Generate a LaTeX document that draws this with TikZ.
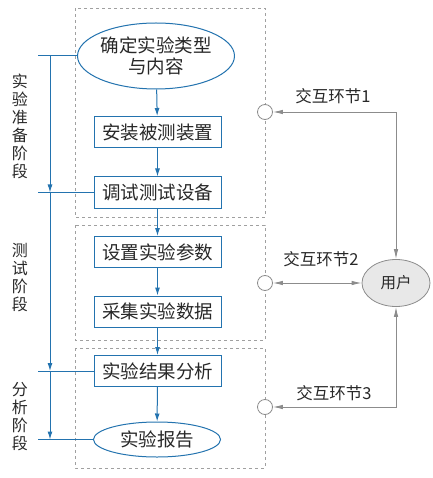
\documentclass[tikz,border=0pt]{standalone}
\usepackage{fontspec}
\setmainfont{Noto Sans CJK SC}
\usetikzlibrary{shapes.geometric,arrows.meta}
\definecolor{flowblue}{RGB}{35,115,175}
\definecolor{linegray}{RGB}{140,140,140}
\definecolor{dashgray}{RGB}{160,160,160}
\definecolor{userfill}{RGB}{232,232,232}
\definecolor{txt}{RGB}{40,40,40}
\tikzset{
  stagebox/.style={draw=dashgray, dashed, line width=0.7pt},
  flowbox/.style={draw=flowblue, line width=1pt, fill=white, minimum width=127pt, minimum height=31pt, inner sep=0pt, text=txt, font=\fontsize{18.5}{21}\selectfont},
  flowell/.style={ellipse, draw=flowblue, line width=1pt, fill=white, inner sep=0pt, text=txt, font=\fontsize{18.5}{21}\selectfont, align=center},
  flowarrow/.style={draw=flowblue, line width=1pt, -{Latex[length=8pt,width=5pt]}},
  flowline/.style={draw=flowblue, line width=1pt},
  port/.style={circle, draw=linegray, fill=white, line width=0.8pt, minimum size=15pt, inner sep=0pt},
  userell/.style={ellipse, draw=linegray, fill=userfill, line width=0.8pt, minimum width=68pt, minimum height=47pt, inner sep=0pt, text=txt, font=\fontsize{15.5}{18}\selectfont},
  interarrow/.style={draw=linegray, line width=0.9pt, {Latex[length=10pt,width=4.5pt]}-{Latex[length=10pt,width=4.5pt]}},
  interlabel/.style={text=txt, inner sep=0pt, font=\fontsize{16.5}{20}\selectfont},
  stagelabel/.style={text=txt, inner sep=0pt, align=center, font=\fontsize{16}{18}\selectfont}
}
\begin{document}
\begin{tikzpicture}[x=1pt,y=-1pt]
\useasboundingbox (0,0) rectangle (432,478);
% stage frames
\draw[stagebox] (75,8) rectangle (265,217);
\draw[stagebox] (75,225) rectangle (265,340);
\draw[stagebox] (75,348) rectangle (265,468);
% flow nodes
\node[flowell, minimum width=141pt, minimum height=66pt] (e1) at (156,56) {确定实验类型\\与内容};
\node[flowbox] (b1) at (157.5,132) {安装被测装置};
\node[flowbox] (b2) at (157.5,192.5) {调试测试设备};
\node[flowbox] (b3) at (157.5,252) {设置实验参数};
\node[flowbox] (b4) at (157.5,311.5) {采集实验数据};
\node[flowbox] (b5) at (157.5,371) {实验结果分析};
\node[flowell, minimum width=127pt, minimum height=35pt] (e2) at (157,439.5) {实验报告};
\draw[flowarrow] (e1) -- (b1);
\draw[flowarrow] (b1) -- (b2);
\draw[flowarrow] (b2) -- (b3);
\draw[flowarrow] (b3) -- (b4);
\draw[flowarrow] (b4) -- (b5);
\draw[flowarrow] (b5) -- (e2);
% left stage bracket
\coordinate (l0) at (38,56);
\coordinate (l1) at (38,192.5);
\coordinate (l2) at (38,371);
\coordinate (l3) at (38,439.5);
\coordinate (v0) at (50,56);
\coordinate (v1) at (50,192.5);
\coordinate (v2) at (50,371);
\coordinate (v3) at (50,439.5);
\draw[flowline] (l0) -- (e1);
\draw[flowline] (l1) -- (b2);
\draw[flowline] (l2) -- (b5);
\draw[flowline] (l3) -- (e2);
\draw[flowarrow] (v0) -- (v1);
\draw[flowarrow] (v1) -- (v2);
\draw[flowarrow] (v2) -- (v3);
\node[stagelabel] (s1) at (20,126) {实\\验\\准\\备\\阶\\段};
\node[stagelabel] (s2) at (20,278) {测\\试\\阶\\段};
\node[stagelabel] (s3) at (20,417) {分\\析\\阶\\段};
% interaction
\node[port] (c1) at (265,112) {};
\node[port] (c2) at (265,283) {};
\node[port] (c3) at (265,407) {};
\node[userell] (u) at (396,283) {用户};
\draw[interarrow] (c1) -| (u.north);
\draw[interarrow] (c2) -- (u);
\draw[interarrow] (c3) -| (u.south);
\node[interlabel] (t1) at (333,96) {交互环节1};
\node[interlabel] (t2) at (321,259) {交互环节2};
\node[interlabel] (t3) at (334,393) {交互环节3};
\end{tikzpicture}
\end{document}
